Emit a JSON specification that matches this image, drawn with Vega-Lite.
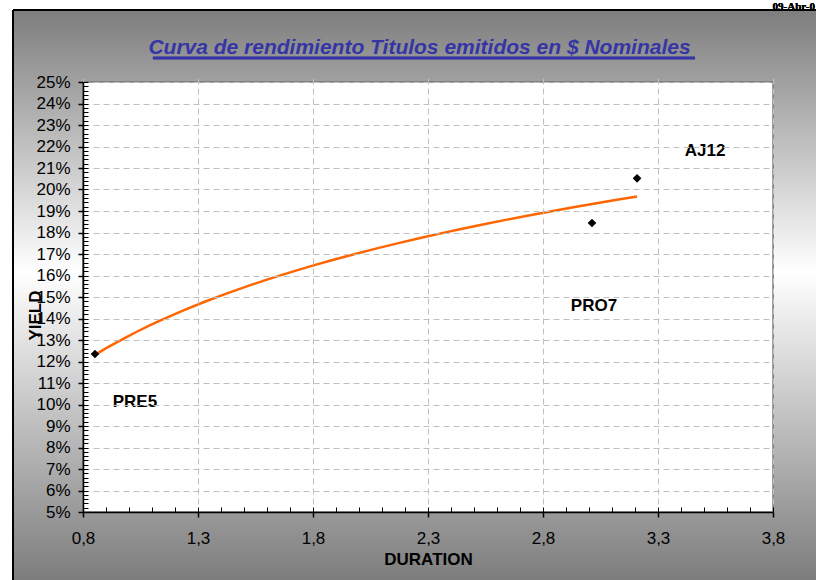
{
  "$schema": "https://vega.github.io/schema/vega-lite/v6.json",
  "width": 803,
  "height": 570,
  "autosize": {"type": "none"},
  "padding": {"left": 13, "top": 10, "right": 0, "bottom": 0},
  "background": "white",
  "view": {
    "fill": {"gradient": "linear", "x1": 0, "y1": 0, "x2": 0, "y2": 1,
      "stops": [{"offset": 0, "color": "#7d7d7d"}, {"offset": 0.46, "color": "#ffffff"}, {"offset": 1, "color": "#7d7d7d"}]},
    "stroke": "#000000",
    "strokeWidth": 2,
    "strokeDash": [803, 1373, 570, 0]
  },
  "title": {
    "text": "Curva de rendimiento Titulos emitidos en $ Nominales",
    "anchor": "middle",
    "frame": "group",
    "offset": 0,
    "dx": 5,
    "dy": 74,
    "baseline": "alphabetic",
    "font": "Liberation Sans",
    "fontSize": 21,
    "fontStyle": "italic",
    "fontWeight": "bold",
    "color": "#3535a5"
  },
  "config": {
    "font": "Liberation Sans",
    "axis": {
      "labelFont": "Liberation Sans",
      "titleFont": "Liberation Sans",
      "labelColor": "#000000",
      "titleColor": "#000000",
      "tickColor": "#000000",
      "domainColor": "#000000",
      "labelFontSize": 17,
      "titleFontSize": 17,
      "titleFontWeight": "bold",
      "labelFlush": false,
      "labelOverlap": false
    }
  },
  "data": {
    "values": [
      {"bond": "PRE5", "duration": 0.852, "yield": 0.1235},
      {"bond": "PRO7", "duration": 3.013, "yield": 0.1844},
      {"bond": "AJ12", "duration": 3.209, "yield": 0.2052}
    ]
  },
  "layer": [
    {
      "mark": {"type": "rect", "fill": "#ffffff", "stroke": "#808080", "strokeWidth": 1.5},
      "encoding": {
        "x": {"datum": 0.8, "type": "quantitative",
          "scale": {"domain": [0.8, 3.8], "range": [70, 760], "nice": false, "zero": false},
          "axis": {"orient": "bottom", "offset": -68, "zindex": 1,
            "values": [0.8, 1.3, 1.8, 2.3, 2.8, 3.3, 3.8],
            "labelExpr": "replace(format(datum.value, '.1f'), '.', ',')",
            "title": "DURATION", "titlePadding": 5,
            "grid": true, "gridColor": "#c0c0c0", "gridDash": [6, 4], "gridWidth": 1,
            "tickSize": 5, "tickWidth": 1.5, "domainWidth": 1.5, "labelPadding": 13}},
        "x2": {"datum": 3.8},
        "y": {"datum": 0.05, "type": "quantitative",
          "scale": {"domain": [0.05, 0.25], "range": [502, 72], "nice": false, "zero": false},
          "axis": {"orient": "left", "offset": -70, "zindex": 1,
            "values": [0.05, 0.06, 0.07, 0.08, 0.09, 0.1, 0.11, 0.12, 0.13, 0.14, 0.15, 0.16, 0.17, 0.18, 0.19, 0.2, 0.21, 0.22, 0.23, 0.24, 0.25],
            "format": ".0%",
            "title": "YIELD", "titleX": -48, "titleY": 305, "titleAngle": -90,
            "titleAlign": "center", "titleBaseline": "middle",
            "grid": true, "gridColor": "#c0c0c0", "gridDash": [6, 4], "gridWidth": 1,
            "tickSize": 5, "tickWidth": 1.5, "domainWidth": 1.5, "labelPadding": 8}},
        "y2": {"datum": 0.25}
      }
    },
    {
      "transform": [{"regression": "yield", "on": "duration", "method": "log"}],
      "mark": {"type": "line", "color": "#ff6600", "strokeWidth": 2.5},
      "encoding": {
        "x": {"field": "duration", "type": "quantitative",
          "scale": {"domain": [0.8, 3.8], "range": [70, 760], "nice": false, "zero": false},
          "axis": {"orient": "bottom", "offset": -68, "zindex": 1, "tickCount": 30,
            "tickSize": -5, "tickWidth": 1, "labels": false, "domain": false, "grid": false, "title": null}},
        "y": {"field": "yield", "type": "quantitative",
          "scale": {"domain": [0.05, 0.25], "range": [502, 72], "nice": false, "zero": false},
          "axis": {"orient": "left", "offset": -70, "zindex": 1, "tickCount": 100,
            "tickSize": -5, "tickWidth": 1, "labels": false, "domain": false, "grid": false, "title": null}}
      }
    },
    {
      "mark": {"type": "point", "shape": "diamond", "filled": true, "color": "#000000", "size": 75, "opacity": 1},
      "encoding": {
        "x": {"field": "duration", "type": "quantitative", "axis": null,
          "scale": {"domain": [0.8, 3.8], "range": [70, 760], "nice": false, "zero": false}},
        "y": {"field": "yield", "type": "quantitative", "axis": null,
          "scale": {"domain": [0.05, 0.25], "range": [502, 72], "nice": false, "zero": false}}
      }
    },
    {
      "transform": [{"filter": "datum.bond === 'AJ12'"}],
      "mark": {"type": "text", "dx": 68, "dy": -27, "font": "Liberation Sans", "fontSize": 17, "fontWeight": "bold", "color": "#000000", "align": "center", "baseline": "middle"},
      "encoding": {
        "x": {"field": "duration", "type": "quantitative", "axis": null,
          "scale": {"domain": [0.8, 3.8], "range": [70, 760], "nice": false, "zero": false}},
        "y": {"field": "yield", "type": "quantitative", "axis": null,
          "scale": {"domain": [0.05, 0.25], "range": [502, 72], "nice": false, "zero": false}},
        "text": {"field": "bond"}
      }
    },
    {
      "transform": [{"filter": "datum.bond === 'PRO7'"}],
      "mark": {"type": "text", "dx": 2, "dy": 83, "font": "Liberation Sans", "fontSize": 17, "fontWeight": "bold", "color": "#000000", "align": "center", "baseline": "middle"},
      "encoding": {
        "x": {"field": "duration", "type": "quantitative", "axis": null,
          "scale": {"domain": [0.8, 3.8], "range": [70, 760], "nice": false, "zero": false}},
        "y": {"field": "yield", "type": "quantitative", "axis": null,
          "scale": {"domain": [0.05, 0.25], "range": [502, 72], "nice": false, "zero": false}},
        "text": {"field": "bond"}
      }
    },
    {
      "transform": [{"filter": "datum.bond === 'PRE5'"}],
      "mark": {"type": "text", "dx": 40, "dy": 48, "font": "Liberation Sans", "fontSize": 17, "fontWeight": "bold", "color": "#000000", "align": "center", "baseline": "middle"},
      "encoding": {
        "x": {"field": "duration", "type": "quantitative", "axis": null,
          "scale": {"domain": [0.8, 3.8], "range": [70, 760], "nice": false, "zero": false}},
        "y": {"field": "yield", "type": "quantitative", "axis": null,
          "scale": {"domain": [0.05, 0.25], "range": [502, 72], "nice": false, "zero": false}},
        "text": {"field": "bond"}
      }
    },
    {
      "mark": {"type": "rule", "color": "#3535a5", "strokeWidth": 2.5},
      "encoding": {
        "x": {"datum": 1.104, "type": "quantitative", "axis": null,
          "scale": {"domain": [0.8, 3.8], "range": [70, 760], "nice": false, "zero": false}},
        "x2": {"datum": 3.461},
        "y": {"datum": 0.2612, "type": "quantitative", "axis": null,
          "scale": {"domain": [0.05, 0.25], "range": [502, 72], "nice": false, "zero": false}}
      }
    },
    {
      "mark": {"type": "text", "text": "09-Abr-0", "font": "Liberation Serif", "fontSize": 11, "fontWeight": "bold", "color": "#000000", "align": "right", "baseline": "alphabetic"},
      "encoding": {
        "x": {"datum": 3.9826, "type": "quantitative", "axis": null,
          "scale": {"domain": [0.8, 3.8], "range": [70, 760], "nice": false, "zero": false}},
        "y": {"datum": 0.28326, "type": "quantitative", "axis": null,
          "scale": {"domain": [0.05, 0.25], "range": [502, 72], "nice": false, "zero": false}}
      }
    }
  ],
  "resolve": {"axis": {"x": "independent", "y": "independent"}}
}
